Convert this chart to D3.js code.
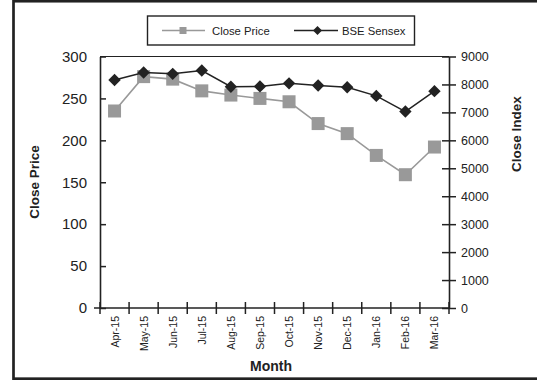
<!DOCTYPE html>
<html>
<head>
<meta charset="utf-8">
<script src="https://cdn.jsdelivr.net/npm/d3@7"></script>
<style>
  html, body { margin: 0; padding: 0; background: #fff; }
  svg { display: block; font-family: "Liberation Sans", Arial, sans-serif; }
</style>
</head>
<body>
<svg id="chart" width="537" height="380"></svg>
<script>
// Monthly data, April 2015 – March 2016
const months = ["Apr-15","May-15","Jun-15","Jul-15","Aug-15","Sep-15","Oct-15","Nov-15","Dec-15","Jan-16","Feb-16","Mar-16"];
const closePrice = [235, 276, 273, 259, 254, 250, 246, 220, 208, 182, 159, 192];
const bseSensex = [8160, 8430, 8380, 8500, 7920, 7930, 8040, 7960, 7900, 7590, 7030, 7760];
const leftTicks = [0, 50, 100, 150, 200, 250, 300];
const rightTicks = [0, 1000, 2000, 3000, 4000, 5000, 6000, 7000, 8000, 9000];

const svg = d3.select("#chart");
const plot = { left: 100, right: 449, top: 56.5, bottom: 308 };
const ink = "#222";
const grey = "#999";
const font = "Liberation Sans, Arial, sans-serif";

// outer frame (right edge runs past the canvas)
svg.append("rect")
  .attr("x", 13.5).attr("y", 1.2)
  .attr("width", 560).attr("height", 377.5)
  .attr("fill", "none").attr("stroke", ink).attr("stroke-width", 2.7);

const x = d3.scaleBand().domain(months).range([plot.left, plot.right]);
const yL = d3.scaleLinear().domain([0, 300]).range([plot.bottom, plot.top]);
const yR = d3.scaleLinear().domain([0, 9000]).range([plot.bottom, plot.top]);

// top edge of plot area
svg.append("line")
  .attr("x1", plot.left).attr("x2", plot.right)
  .attr("y1", plot.top).attr("y2", plot.top)
  .attr("stroke", ink).attr("stroke-width", 1);

// left axis
const gL = svg.append("g").attr("transform", `translate(${plot.left},0)`)
  .call(d3.axisLeft(yL).tickValues(leftTicks).tickSize(6).tickPadding(7).tickSizeOuter(0));
gL.selectAll(".tick line").attr("x2", 6);
gL.selectAll(".tick text").attr("font-size", 15).attr("fill", ink).attr("font-family", font);

// right axis
const gR = svg.append("g").attr("transform", `translate(${plot.right},0)`)
  .call(d3.axisRight(yR).tickValues(rightTicks).tickFormat(d3.format("d"))
    .tickSize(7).tickPadding(5).tickSizeOuter(0));
gR.selectAll(".tick line").attr("x1", -7);
gR.selectAll(".tick text").attr("font-size", 12.5).attr("fill", ink).attr("font-family", font);

// bottom axis: ticks at category boundaries
const gB = svg.append("g").attr("transform", `translate(0,${plot.bottom})`);
gB.append("line").attr("x1", plot.left - 6).attr("x2", plot.right)
  .attr("stroke", ink).attr("stroke-width", 1.5);
const bounds = months.map(m => x(m)).concat([plot.right]);
gB.selectAll("line.b").data(bounds).enter().append("line")
  .attr("x1", d => d).attr("x2", d => d)
  .attr("y1", -6).attr("y2", 6)
  .attr("stroke", ink).attr("stroke-width", 1.5);
gB.selectAll("text").data(months).enter().append("text")
  .attr("transform", d => `translate(${x(d) + x.bandwidth() / 2 + 4},8) rotate(-90)`)
  .attr("text-anchor", "end")
  .attr("font-size", 10.5).attr("fill", ink).attr("font-family", font)
  .text(d => d);

[gL, gR].forEach(g => {
  g.select(".domain").attr("stroke", ink).attr("stroke-width", 1.6);
  g.selectAll(".tick line").attr("stroke", ink).attr("stroke-width", 1.5);
});

// axis titles
svg.append("text").attr("transform", "translate(39,182) rotate(-90)")
  .attr("text-anchor", "middle").attr("font-weight", "bold").attr("font-size", 13.5)
  .attr("fill", ink).text("Close Price");
svg.append("text").attr("transform", "translate(521,134) rotate(-90)")
  .attr("text-anchor", "middle").attr("font-weight", "bold").attr("font-size", 13.5)
  .attr("fill", ink).text("Close Index");
svg.append("text").attr("x", 271).attr("y", 371)
  .attr("text-anchor", "middle").attr("font-weight", "bold").attr("font-size", 14)
  .attr("fill", ink).text("Month");

const cx = d => x(d) + x.bandwidth() / 2;

// Close Price series
svg.append("path")
  .datum(closePrice)
  .attr("fill", "none").attr("stroke", grey).attr("stroke-width", 1.6)
  .attr("d", d3.line().x((d, i) => cx(months[i])).y(d => yL(d)));
svg.selectAll("rect.cp").data(closePrice).enter().append("rect")
  .attr("x", (d, i) => cx(months[i]) - 6.5).attr("y", d => yL(d) - 6.5)
  .attr("width", 13).attr("height", 13).attr("fill", grey);

// BSE Sensex series
svg.append("path")
  .datum(bseSensex)
  .attr("fill", "none").attr("stroke", ink).attr("stroke-width", 1.5)
  .attr("d", d3.line().x((d, i) => cx(months[i])).y(d => yR(d)));
const diamond = r => `M0,${-r}L${r},0L0,${r}L${-r},0Z`;
svg.selectAll("path.bse").data(bseSensex).enter().append("path")
  .attr("transform", (d, i) => `translate(${cx(months[i])},${yR(d)})`)
  .attr("d", diamond(6.2)).attr("fill", ink);

// legend
const lg = svg.append("g");
lg.append("rect").attr("x", 147.5).attr("y", 16).attr("width", 267).attr("height", 29)
  .attr("fill", "#fff").attr("stroke", ink).attr("stroke-width", 1.4);
lg.append("line").attr("x1", 162).attr("x2", 205).attr("y1", 30.5).attr("y2", 30.5)
  .attr("stroke", grey).attr("stroke-width", 1.4);
lg.append("rect").attr("x", 179.5).attr("y", 27).attr("width", 7).attr("height", 7).attr("fill", grey);
lg.append("text").attr("x", 212).attr("y", 34.5).attr("font-size", 11.3).attr("fill", ink).text("Close Price");
lg.append("line").attr("x1", 294).attr("x2", 338).attr("y1", 30.5).attr("y2", 30.5)
  .attr("stroke", ink).attr("stroke-width", 1.4);
lg.append("path").attr("transform", "translate(317.5,30.5)").attr("d", diamond(4.5)).attr("fill", ink);
lg.append("text").attr("x", 342).attr("y", 34.5).attr("font-size", 11.3).attr("fill", ink).text("BSE Sensex");
</script>
</body>
</html>
